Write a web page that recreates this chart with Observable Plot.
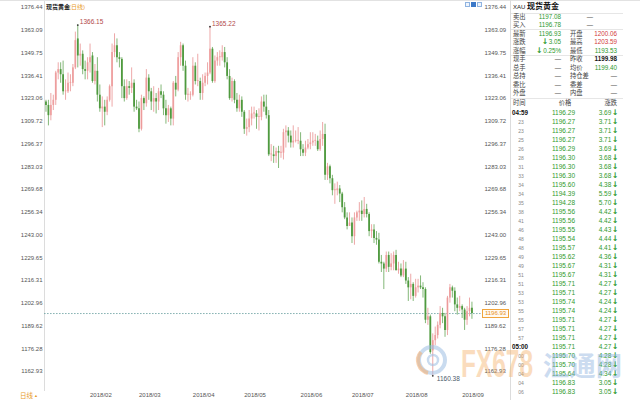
<!DOCTYPE html>
<html><head><meta charset="utf-8">
<script src="https://cdn.jsdelivr.net/npm/d3@7"></script>
<script src="https://cdn.jsdelivr.net/npm/@observablehq/plot@0.6"></script>
<style>
body{margin:0;background:#fff;}
#wrap{position:relative;width:640px;height:400px;overflow:hidden;background:#fff;font-family:"Liberation Sans","Noto Sans CJK SC",sans-serif;}
#wrap svg.chart{position:absolute;left:0;top:0;}
</style></head>
<body><div id="wrap"></div>
<script>
const dates = [
"01/08","01/09","01/10","01/11","01/12","01/15","01/16","01/17","01/18","01/19","01/22","01/23","01/24","01/25","01/26","01/29","01/30","01/31",
"02/01","02/02","02/05","02/06","02/07","02/08","02/09","02/12","02/13","02/14","02/15","02/16","02/19","02/20","02/21","02/22","02/23","02/26","02/27","02/28",
"03/01","03/02","03/05","03/06","03/07","03/08","03/09","03/12","03/13","03/14","03/15","03/16","03/19","03/20","03/21","03/22","03/23","03/26","03/27","03/28","03/29","03/30",
"04/02","04/03","04/04","04/05","04/06","04/09","04/10","04/11","04/12","04/13","04/16","04/17","04/18","04/19","04/20","04/23","04/24","04/25","04/26","04/27","04/30",
"05/01","05/02","05/03","05/04","05/07","05/08","05/09","05/10","05/11","05/14","05/15","05/16","05/17","05/18","05/21","05/22","05/23","05/24","05/25","05/28","05/29","05/30","05/31",
"06/01","06/04","06/05","06/06","06/07","06/08","06/11","06/12","06/13","06/14","06/15","06/18","06/19","06/20","06/21","06/22","06/25","06/26","06/27","06/28","06/29",
"07/02","07/03","07/04","07/05","07/06","07/09","07/10","07/11","07/12","07/13","07/16","07/17","07/18","07/19","07/20","07/23","07/24","07/25","07/26","07/27","07/30","07/31",
"08/01","08/02","08/03","08/06","08/07","08/08","08/09","08/10","08/13","08/14","08/15","08/16","08/17","08/20","08/21","08/22","08/23","08/24","08/27","08/28","08/29","08/30","08/31",
"09/03","09/04","09/05","09/06","09/07"];
const opens = [
1321,1319,1313,1319,1322,1338,1340,1337,1327,1327,1332,1332,1341,1358,1348,1349,1340,1339,
1344,1348,1333,1339,1325,1317,1318,1315,1322,1330,1350,1354,1347,1346,1330,1323,1330,1329,1332,1318,
1317,1305,1323,1320,1335,1327,1321,1323,1321,1327,1325,1317,1313,1317,1311,1332,1328,1347,1354,1342,1325,1325,
1325,1342,1333,1333,1326,1332,1336,1338,1352,1333,1345,1347,1347,1350,1344,1336,1323,1333,1322,1317,1322,
1315,1305,1306,1311,1314,1314,1312,1312,1321,1318,1313,1290,1290,1289,1292,1291,1291,1303,1304,1301,1297,1298,1298,
1298,1293,1291,1294,1296,1297,1298,1298,1293,1299,1302,1278,1283,1276,1269,1269,1270,1267,1259,1253,1248,
1250,1242,1253,1256,1257,1255,1258,1255,1245,1246,1241,1240,1227,1226,1223,1231,1224,1226,1231,1222,1223,1219,
1223,1216,1212,1214,1207,1212,1213,1212,1211,1193,1195,1175,1181,1184,1190,1197,1195,1187,1206,1212,1210,1202,1200,
1201,1199,1193,1198,1200.06];
const highs = [
1322,1322,1326,1325,1339,1344,1344,1345,1334,1338,1337,1343,1362,1366.15,1355,1351,1345,1347,
1355,1350,1343,1347,1331,1324,1322,1324,1331,1355,1361,1358,1350,1347,1334,1334,1333,1341,1334,1322,
1321,1325,1324,1340,1337,1329,1330,1326,1329,1331,1327,1322,1319,1318,1333,1336,1350,1356,1355,1345,1329,1327,
1347,1344,1349,1335,1337,1338,1344,1365.22,1353,1348,1350,1351,1354,1353,1347,1340,1335,1334,1326,1325,1324,
1316,1311,1316,1318,1318,1316,1317,1324,1325,1325,1316,1296,1295,1294,1295,1295,1305,1307,1306,1304,1307,1304,1306,
1303,1296,1298,1299,1303,1303,1302,1301,1304,1309,1308,1285,1284,1278,1273,1274,1272,1268,1262,1256,1256,
1253,1256,1257,1262,1263,1265,1261,1256,1249,1249,1245,1244,1231,1227,1233,1233,1232,1233,1234,1227,1226,1228,
1227,1218,1220,1215,1217,1217,1219,1215,1212,1200,1196,1185,1189,1192,1201,1200,1197,1207,1214,1213,1212,1206,1207,
1202,1200,1201,1206,1203.59];
const lows = [
1315,1307,1310,1316,1319,1334,1332,1325,1322,1326,1327,1330,1340,1341,1342,1337,1334,1334,
1338,1332,1331,1321,1315,1306,1307,1313,1321,1318,1347,1344,1341,1323,1321,1322,1325,1326,1315,1316,
1303,1304,1316,1318,1322,1316,1315,1314,1316,1323,1313,1308,1309,1307,1307,1324,1327,1342,1339,1322,1321,1322,
1324,1331,1330,1322,1322,1330,1331,1337,1332,1332,1342,1342,1345,1341,1334,1322,1321,1320,1315,1315,1312,
1302,1301,1303,1307,1311,1305,1304,1310,1315,1311,1289,1286,1285,1285,1282,1288,1287,1294,1297,1294,1294,1297,1296,
1289,1289,1289,1293,1293,1295,1295,1292,1292,1295,1275,1275,1273,1266,1261,1266,1262,1256,1252,1246,1248,
1238,1237,1251,1251,1251,1253,1253,1242,1241,1238,1237,1226,1221,1211,1221,1221,1222,1222,1222,1220,1218,1218,
1214,1204,1205,1204,1206,1209,1211,1206,1191,1190,1173,1160.38,1178,1182,1188,1191,1183,1184,1203,1206,1198,1196,1198,
1194,1187,1190,1195,1193.53];
const closes = [
1319,1313,1319,1322,1338,1340,1337,1327,1327,1332,1332,1341,1357,1348,1349,1340,1339,1344,
1347,1333,1339,1325,1317,1318,1315,1322,1330,1350,1354,1347,1346,1330,1323,1330,1329,1332,1318,1317,
1305,1323,1320,1335,1327,1321,1323,1321,1327,1325,1317,1313,1317,1311,1332,1328,1347,1354,1342,1325,1325,1325,
1342,1333,1333,1326,1332,1336,1338,1352,1333,1345,1347,1347,1350,1344,1336,1323,1333,1322,1317,1322,1315,
1305,1306,1311,1314,1314,1312,1312,1321,1318,1313,1290,1290,1289,1292,1291,1291,1303,1304,1301,1297,1298,1298,1298,
1293,1291,1294,1296,1297,1298,1298,1293,1299,1302,1278,1283,1276,1269,1269,1270,1267,1259,1253,1248,1250,
1242,1253,1256,1257,1255,1258,1255,1245,1246,1241,1240,1227,1226,1223,1231,1224,1226,1231,1222,1223,1219,1223,
1216,1212,1214,1207,1212,1213,1212,1211,1193,1195,1174,1181,1184,1190,1197,1195,1187,1206,1212,1210,1202,1200,1201,
1199,1193,1198,1199.98,1196.93];

const yTicks = [1376.44,1363.09,1349.75,1336.41,1323.06,1309.72,1296.37,1283.03,1269.68,1256.34,1243.00,1229.65,1216.31,1202.96,1189.62,1176.28,1162.93];
const monthLabels = ["2018/02","2018/03","2018/04","2018/05","2018/06","2018/07","2018/08","2018/09"];
const extremeDates = ["01/25","04/11","08/16"];
const extremeKinds = ["high","high","low"];

const quoteLabels1 = ["卖出","买入","最新","涨跌","涨幅","现手","总手","总持","委比","外盘"];
const quoteValues1 = ["1197.08","1196.78","1196.93","↓3.05","↓0.25%","—","—","—","—","—"];
const quoteLabels2 = ["","","开盘","最高","最低","昨收","均价","持仓差","委差","内盘"];
const quoteValues2 = ["—","—","1200.06","1203.59","1193.53","1199.98","1199.40","—","—","—"];

const tickTimes = ["04:59","23","23","25","26","28","31","33","34","34","35","38","41","46","48","48","49","49","51","51","53","53","55","55","57","57","05:00","00","00","04","04","06"];
const tickPrices = ["1196.29","1196.27","1196.27","1196.27","1196.29","1196.30","1196.30","1196.30","1195.60","1194.39","1194.28","1195.56","1195.56","1195.55","1195.54","1195.57","1195.62","1195.67","1195.67","1195.71","1195.71","1195.74","1195.74","1195.71","1195.71","1195.71","1195.71","1195.70","1195.70","1195.64","1196.83","1196.83"];
const tickChanges = ["3.69","3.71","3.71","3.71","3.69","3.68","3.68","3.68","4.38","5.59","5.70","4.42","4.42","4.43","4.44","4.41","4.36","4.31","4.31","4.27","4.27","4.24","4.24","4.27","4.27","4.27","4.27","4.28","4.28","4.34","3.05","3.05"];

// ---- build ----
const data = dates.map((d, i) => ({i, date: d, open: opens[i], high: highs[i], low: lows[i], close: closes[i], up: closes[i] >= opens[i]}));
const months = monthLabels.map(m => ({label: m, i: dates.findIndex(d => d.startsWith(m.slice(5)))}));
const extremes = extremeDates.map((d, k) => {
  const r = data.find(e => e.date === d);
  const v = extremeKinds[k] === "high" ? r.high : r.low;
  return {i: r.i, v, kind: extremeKinds[k], label: v.toFixed(2)};
});
const last = data[data.length - 1];

const UP = "#e58383", UPBODY = "#f3b0b0", DOWN = "#4f9a3f";
const fmt = d => d.toFixed(2);

const chart = Plot.plot({
  width: 640, height: 400,
  marginLeft: 44, marginRight: 159, marginTop: 0, marginBottom: 10,
  className: "chart",
  style: {fontFamily: "Liberation Sans, Arial, sans-serif", background: "transparent", color: "#555"},
  x: {domain: [-0.6, 177.9], axis: null},
  y: {domain: [1162.93, 1376.44], range: [371, 7], axis: null},
  marks: [
    Plot.frame({anchor: "left", stroke: "#dcdcdc"}),
    Plot.axisY(yTicks, {anchor: "left", tickSize: 0, tickPadding: 2, tickFormat: fmt, fontSize: 6, fill: "#555"}),
    Plot.axisY(yTicks, {anchor: "right", tickSize: 0, tickPadding: 3, tickFormat: fmt, fontSize: 6, fill: "#555"}),
    Plot.ruleY([last.close], {stroke: "#6a9fa0", strokeDasharray: "1.6,1.4", strokeWidth: 0.8}),
    Plot.ruleX(data, {x: "i", y1: "low", y2: "high", stroke: d => d.up ? UP : DOWN, strokeWidth: 0.7}),
    Plot.ruleX(data, {x: "i", y1: "open", y2: d => Math.abs(d.close - d.open) < 0.4 ? d.open + 0.5 : d.close,
      stroke: d => d.up ? UPBODY : DOWN, strokeWidth: 1.8}),
    Plot.ruleX(data.filter(d => d.up), {x: "i", y1: "open", y2: d => Math.abs(d.close - d.open) < 0.4 ? d.open + 0.5 : d.close,
      stroke: UP, strokeWidth: 0.5}),
    Plot.dot(extremes, {x: "i", y: "v", r: 0.9, fill: "#333", stroke: null}),
    Plot.text(extremes.filter(d => d.kind === "high"), {x: "i", y: "v", text: "label", textAnchor: "start", dx: 2, dy: -3, fontSize: 6.5, fill: "#b24a4a"}),
    Plot.text(extremes.filter(d => d.kind === "low"), {x: "i", y: "v", text: "label", textAnchor: "start", dx: 4, dy: 3, fontSize: 6.5, fill: "#4a5a6a"}),
    Plot.text(months, {x: "i", text: "label", frameAnchor: "bottom", textAnchor: "start", dy: 6, fontSize: 6, fill: "#555"})
  ]
});
const wrap = document.getElementById("wrap");
wrap.appendChild(chart);

function put(text, x, y, o = {}) {
  const s = document.createElement("span");
  s.textContent = text;
  const a = o.anchor === "end" ? "-100%" : o.anchor === "middle" ? "-50%" : "0";
  s.style.cssText = `position:absolute;left:${x}px;top:${y}px;font-size:${o.size || 6.3}px;color:${o.color || "#333"};` +
    `font-weight:${o.weight || "normal"};white-space:nowrap;line-height:1;transform:translate(${a},-50%);` +
    (o.family ? `font-family:${o.family};` : "") + (o.extra || "");
  wrap.appendChild(s);
  return s;
}
function box(x, y, w, h, css) {
  const d = document.createElement("div");
  d.style.cssText = `position:absolute;left:${x}px;top:${y}px;width:${w}px;height:${h}px;box-sizing:border-box;${css}`;
  wrap.appendChild(d);
  return d;
}
// value with a bold down arrow drawn larger, arrow after or before the number
function putArrowed(text, x, y, color, size, arrowFirst) {
  const s = put("", x, y, {anchor: "end", color, size});
  const num = text.replace("↓", "");
  const ar = document.createElement("b");
  ar.textContent = "↓";
  ar.style.cssText = "font-size:" + (size + 1.5) + "px;font-family:DejaVu Sans;margin:0 0.5px;";
  const n = document.createTextNode(num);
  if (arrowFirst) { s.appendChild(ar); s.appendChild(n); } else { s.appendChild(n); s.appendChild(ar); }
}

// top rule and chart title
box(0, 0, 640, 1, "background:#e2e2e2;");
put("现货黄金", 46, 6.5, {size: 6, weight: "bold", color: "#222"});
put("(日线)", 69, 6.5, {size: 6, color: "#e89a2a"});
// small view buttons
box(465, 2, 5, 5, "border:1px solid #8fb3e0;background:#eef4fc;");
box(471, 2, 5, 5, "background:#3b78c8;");
box(477, 2, 5, 5, "border:1px solid #8fb3e0;background:#eef4fc;");
// period label
put("日线", 20, 396, {size: 6.5, color: "#e89a2a"});
put("▲", 34, 396, {size: 4, color: "#e89a2a"});

// current price tag on right axis
const yScale = chart.scale("y");
const py = yScale.apply(last.close);
box(482, py - 4.5, 27, 9, "border:1px solid #f0a43c;background:#fffaf2;");
put(fmt(last.close), 495.5, py, {anchor: "middle", size: 6, color: "#e8901a"});

// ---- right quote panel ----
box(510, 0, 1, 400, "background:#dcdcdc;");
put("XAU", 513, 7, {size: 6, color: "#222"});
put("现货黄金", 527, 7, {size: 8, weight: "bold", color: "#111"});
[12.5, 29, 55, 98].forEach(y => box(511, y, 112, 1, "background:#e6e6e6;"));
const rowY = k => 17 + 8.45 * k;
const c2 = {"开盘": "#d33b3b", "最高": "#d33b3b", "最低": "#2f9a2f", "均价": "#2f9a2f", "昨收": "#111"};
quoteLabels1.forEach((lab, k) => {
  const y = rowY(k);
  put(lab, 513, y, {color: "#444"});
  const v1 = quoteValues1[k];
  if (v1.includes("↓")) putArrowed(v1, 561, y, "#2f9a2f", 6.3, true);
  else put(v1, 561, y, {anchor: "end", color: v1 === "—" ? "#555" : "#2f9a2f"});
  const lab2 = quoteLabels2[k], v2 = quoteValues2[k];
  if (lab2) {
    put(lab2, 570, y, {color: "#444"});
    put(v2, 617, y, {anchor: "end", color: v2 === "—" ? "#555" : c2[lab2], weight: lab2 === "昨收" ? "bold" : "normal"});
  } else {
    put(v2, 590, y, {anchor: "middle", color: "#555"});
  }
});
put("时间", 513, 103, {color: "#444"});
put("价格", 565, 103, {anchor: "middle", color: "#444"});
put("涨跌", 617, 103, {anchor: "end", color: "#444"});
tickTimes.forEach((tm, k) => {
  const y = 113 + 9 * k;
  if (tm.includes(":")) put(tm, 512, y, {weight: "bold", color: "#111", size: 6.3});
  else put(tm, 521, y, {anchor: "middle", color: "#888", size: 5});
  put(tickPrices[k], 575, y, {anchor: "end", color: "#2f9a2f", size: 6.5});
  putArrowed(tickChanges[k] + "↓", 619, y, "#2f9a2f", 6.5, false);
});

// ---- watermark ----
const ns = "http://www.w3.org/2000/svg";
const wm = document.createElementNS(ns, "svg");
wm.setAttribute("width", 640); wm.setAttribute("height", 400);
wm.style.cssText = "position:absolute;left:0;top:0;pointer-events:none;";
wm.innerHTML = `
 <circle cx="432" cy="360" r="13" fill="none" stroke="#9cbde2" stroke-width="4" opacity="0.55"/>
 <path d="M 421 352 A 13 13 0 0 0 428 373" fill="none" stroke="#f4b27a" stroke-width="4" opacity="0.6"/>
 <circle cx="433" cy="360" r="5" fill="none" stroke="#9cbde2" stroke-width="2.5" opacity="0.55"/>
 <text x="461" y="377" font-family="Liberation Sans, Arial" font-weight="bold" font-size="38" textLength="72" lengthAdjust="spacingAndGlyphs" fill="#f6b36f" opacity="0.45">FX678</text>
 <text x="543" y="376" font-family="Noto Sans CJK SC" font-weight="bold" font-size="27" textLength="79" lengthAdjust="spacingAndGlyphs" fill="#8fb2de" opacity="0.45">汇通网</text>`;
wrap.appendChild(wm);
</script>
</body></html>
